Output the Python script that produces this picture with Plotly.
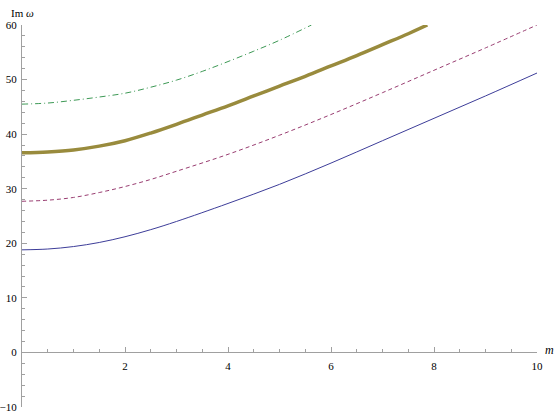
import plotly.graph_objects as go

# Curves (m, Im omega)
M_BLUE = [0, 0.5, 1, 1.5, 2, 2.5, 3, 4, 5, 6, 7, 8, 9, 10]
IM_BLUE = [18.8, 18.95, 19.4, 20.15, 21.2, 22.5, 24.0, 27.3, 30.8, 34.7, 38.8,
           42.9, 47.0, 51.2]

M_RED = [0, 0.5, 1, 1.5, 2, 2.5, 3, 4, 5, 6, 7, 8, 9, 10]
IM_RED = [27.7, 27.9, 28.4, 29.3, 30.4, 31.7, 33.2, 36.3, 39.8, 43.6, 47.6,
          51.7, 55.8, 60.0]

M_OLIVE = [0, 0.5, 1, 1.5, 2, 2.5, 3, 3.5, 4, 4.5, 5, 5.5, 6, 6.5, 7, 7.5, 7.87]
IM_OLIVE = [36.6, 36.75, 37.1, 37.8, 38.8, 40.2, 41.8, 43.5, 45.2, 47.0, 48.8,
            50.6, 52.5, 54.4, 56.4, 58.4, 60.0]

M_GREEN = [0, 0.5, 1, 1.5, 2, 2.5, 3, 3.5, 4, 4.5, 5, 5.62]
IM_GREEN = [45.5, 45.7, 46.2, 46.8, 47.5, 48.6, 49.9, 51.5, 53.3, 55.2, 57.2,
            60.0]

X_TICKS = [2, 4, 6, 8, 10]
Y_TICKS = [-10, 0, 10, 20, 30, 40, 50, 60]
Y_TICK_TEXT = ["\u221210", "0", "10", "20", "30", "40", "50", "60"]

AXIS_COLOR = "#a0a0a0"
FONT = "Liberation Serif, Times New Roman, serif"

fig = go.Figure()

fig.add_trace(go.Scatter(
    x=M_BLUE, y=IM_BLUE, mode="lines", line_shape="spline",
    line=dict(color="#3d3d99", width=1),
))
fig.add_trace(go.Scatter(
    x=M_RED, y=IM_RED, mode="lines", line_shape="spline",
    line=dict(color="#993d71", width=1, dash="4px,3px"),
))
fig.add_trace(go.Scatter(
    x=M_OLIVE, y=IM_OLIVE, mode="lines", line_shape="spline",
    line=dict(color="#998b3d", width=3.5),
))
fig.add_trace(go.Scatter(
    x=M_GREEN, y=IM_GREEN, mode="lines", line_shape="spline",
    line=dict(color="#3d9955", width=1, dash="6px,3px,1px,3px"),
))

fig.update_layout(
    width=554,
    height=415,
    margin=dict(l=22, r=17, t=25, b=8),
    plot_bgcolor="white",
    paper_bgcolor="white",
    showlegend=False,
    font=dict(family=FONT, size=11, color="black"),
    xaxis=dict(
        range=[0, 10],
        anchor="free",
        position=10 / 70,
        showgrid=False,
        zeroline=False,
        showline=True,
        linecolor=AXIS_COLOR,
        linewidth=1,
        tickvals=X_TICKS,
        ticks="inside",
        ticklen=5,
        tickcolor=AXIS_COLOR,
        ticklabelstandoff=3,
        minor=dict(dtick=0.5, tick0=0, ticks="inside", ticklen=3,
                   tickcolor=AXIS_COLOR, showgrid=False),
        automargin=False,
    ),
    yaxis=dict(
        range=[-10, 60],
        showgrid=False,
        zeroline=False,
        showline=True,
        linecolor=AXIS_COLOR,
        linewidth=1,
        tickvals=Y_TICKS,
        ticktext=Y_TICK_TEXT,
        ticks="inside",
        ticklen=5,
        tickcolor=AXIS_COLOR,
        ticklabelstandoff=2,
        minor=dict(dtick=2, tick0=0, ticks="inside", ticklen=3,
                   tickcolor=AXIS_COLOR, showgrid=False),
        automargin=False,
    ),
    annotations=[
        dict(text="Im <i>\u03c9</i>", x=0, xref="paper", y=1.031, yref="paper",
             xanchor="center", yanchor="middle", showarrow=False,
             font=dict(family=FONT, size=11)),
        dict(text="<i>m</i>", x=1, xref="paper", y=10 / 70, yref="paper",
             xshift=12, xanchor="center", yanchor="middle", yshift=2,
             showarrow=False, font=dict(family=FONT, size=12)),
    ],
)

# drop the default body margin so the figure fills the window
fig.write_html(
    "out.html",
    config={"displayModeBar": False},
    post_script="document.body.style.margin = '0px';",
)
